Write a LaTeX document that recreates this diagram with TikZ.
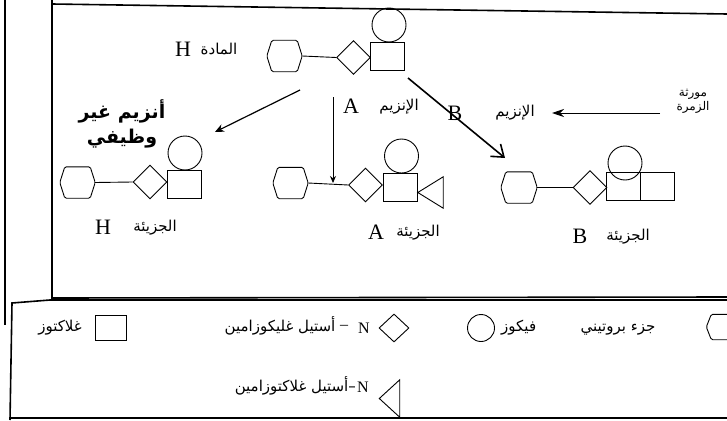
\documentclass[tikz,border=0pt]{standalone}
\usepackage{fontspec}
\setmainfont{Liberation Serif}
\newfontfamily\arabicfont[Script=Arabic]{DejaVu Sans}
\TeXXeTstate=1
\usetikzlibrary{shapes.geometric,arrows.meta}
\tikzset{
  ln/.style={line width=0.9pt},
  frame/.style={line width=1.6pt},
  hexbox/.style={minimum width=35pt, minimum height=31pt, inner sep=0pt},
  tribox/.style={minimum width=25pt, minimum height=31pt, inner sep=0pt},
  dia/.style={draw, ln, diamond, minimum width=34pt, minimum height=34pt, inner sep=0pt},
  sq/.style={draw, ln, rectangle, minimum width=34pt, minimum height=28pt, inner sep=0pt},
  cir/.style={draw, ln, circle, minimum size=34pt, inner sep=0pt},
  lat/.style={font=\fontsize{22}{24}\selectfont, inner sep=0pt},
  latsm/.style={font=\fontsize{16}{18}\selectfont, inner sep=0pt},
  arab/.style={font=\arabicfont\fontsize{15}{17}\selectfont, inner sep=0pt, text height=12pt, text depth=5pt},
  arabhand/.style={font=\arabicfont\bfseries\fontsize{19}{25}\selectfont, inner sep=0pt, align=center},
}
\begin{document}
\begin{tikzpicture}[x=1pt,y=-1pt]
\clip (0,0) rectangle (727,420);
\fill[white] (0,0) rectangle (727,420);
% frames
\draw[frame] (5,0) -- (5,325);
\draw[frame] (52,0) -- (52,298) -- (727,297);
\draw[frame] (52,4) -- (727,14);
\draw[frame] (727,300) -- (50,300) -- (12,303) -- (10,420);
\draw[frame] (10,418) -- (727,418);

% molecule H (top)
\node[hexbox] (hT) at (284.5,56) {};
\node[dia] (dT) at (353.5,57.5) {};
\node[sq] (sT) at (387.5,56) {};
\node[cir] (cT) at (389,25) {};
\draw[ln] (hT.east) -- (dT.west);
\node[lat] (lHT) at (183,49) {H};
\node[arab] (aHT) at (219,51) {\beginR المادة\endR};

% molecule H (bottom)
\node[hexbox] (hH) at (77.5,182.5) {};
\node[dia] (dH) at (150,182) {};
\node[sq] (sH) at (184,184) {};
\node[cir] (cH) at (185,153) {};
\draw[ln] (hH.east) -- (dH.west);
\node[lat] (lHB) at (103,227) {H};
\node[arab] (aHB) at (155,228) {\beginR الجزيئة\endR};
\node[arabhand] (bad) at (122,124) {\beginR أنزيم غير\endR\\\beginR وظيفي\endR};

% molecule A
\node[hexbox] (hA) at (290.5,183) {};
\node[dia] (dA) at (365.5,185) {};
\node[sq] (sA) at (400,187) {};
\node[cir] (cA) at (401.5,156) {};
\node[tribox] (tA) at (430.5,192.5) {};
\draw[ln] (hA.east) -- (dA.west);
\node[lat] (lA) at (351,106) {A};
\node[arab] (aA) at (399,107) {\beginR الإنزيم\endR};
\node[lat] (lAB) at (376,232) {A};
\node[arab] (aAB) at (418,233) {\beginR الجزيئة\endR};

% molecule B
\node[hexbox, minimum width=36pt] (hB) at (519,187.5) {};
\node[dia] (dB) at (590,187.5) {};
\node[sq] (sB1) at (623.5,186) {};
\node[sq] (sB2) at (657.5,186) {};
\node[cir] (cB) at (625,163) {};
\draw[ln] (hB.east) -- (dB.west);
\node[lat] (lB) at (455,113) {B};
\node[arab] (aB) at (515,113) {\beginR الإنزيم\endR};
\node[lat] (lBB) at (580,236) {B};
\node[arab] (aBB) at (628,237) {\beginR الجزيئة\endR};
\node[arab, align=center, text height=, text depth=, font=\arabicfont\fontsize{12}{14}\selectfont] (gene) at (693,101) {\beginR مورثة\endR\\\beginR الزمرة\endR};

% arrows
\coordinate (pH1) at (300,90);
\coordinate (pH2) at (215,132);
\draw[line width=1.2pt, -{Stealth[length=9pt,width=8pt]}] (pH1) -- (pH2);
\coordinate (pA1) at (333,97);
\coordinate (pA2) at (333,183);
\draw[ln, -{Stealth[length=7pt,width=6pt]}] (pA1) -- (pA2);
\coordinate (pB1) at (408,78);
\coordinate (pB2) at (505,158);
\draw[line width=1.6pt, -{Straight Barb[length=11pt,width=16pt]}] (pB1) -- (pB2);
\coordinate (pG) at (660,113);
\draw[ln, -{Stealth[length=12pt,width=8pt]}] (pG) -- (552,113);

% legend
\node[hexbox, minimum height=25pt] (hL) at (724,327) {};
\node[arab] (aL1) at (618,328) {\beginR جزء بروتيني\endR};
\node[draw, ln, circle, minimum size=27pt, inner sep=0pt] (cL) at (481,328) {};
\node[arab, anchor=west] (aL2) at (501,328) {\beginR فيكوز\endR};
\node[draw, ln, diamond, minimum width=30pt, minimum height=28pt, inner sep=0pt] (dL) at (394,328) {};
\node[latsm] (nL1) at (364,328) {N};
\node[latsm] (dashL1) at (344,327) {–};
\node[arab] (aL3) at (280,328) {\beginR أستيل غليكوزامين\endR};
\node[draw, ln, rectangle, minimum width=31pt, minimum height=25pt, inner sep=0pt] (sL) at (111,328) {};
\node[arab] (aL4) at (60,328) {\beginR غلاكتوز\endR};
\node[tribox, minimum width=20pt, minimum height=37pt] (tL) at (389.5,398.5) {};
\node[latsm] (nL2) at (363,387) {N};
\node[arab, anchor=east] (aL5) at (356,388) {\beginR أستيل غلاكتوزامين\endR–};

% hexagons and triangles
\foreach \n in {hT,hH,hA,hB,hL}
  \draw[ln, rounded corners=1.5pt] (\n.west) -- ([xshift=5pt]\n.north west) -- ([xshift=-5pt]\n.north east) -- (\n.east) -- ([xshift=-5pt]\n.south east) -- ([xshift=5pt]\n.south west) -- cycle;
\foreach \n in {tA,tL}
  \draw[ln] (\n.west) -- (\n.north east) -- (\n.south east) -- cycle;
\end{tikzpicture}
\end{document}
